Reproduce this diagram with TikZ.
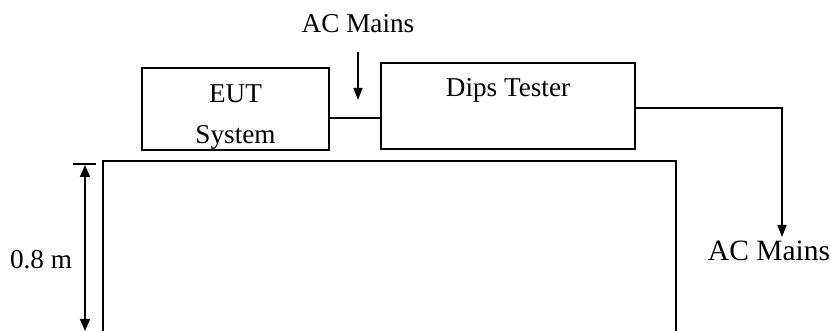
\documentclass[tikz,border=0pt]{standalone}
\usepackage{fontspec}
\setmainfont{Liberation Serif}
\usetikzlibrary{arrows.meta,positioning}

\begin{document}
\begin{tikzpicture}[x=0.5pt,y=-0.5pt,every node/.style={font=\fontsize{13.6}{20.5}\selectfont},
    box/.style={draw,line width=0.9pt,inner sep=0pt},
    tag/.style={inner sep=0pt,align=center},
    feed/.style={line width=0.8pt,-{Triangle[length=6pt,width=4.5pt]}}]
  \useasboundingbox (0,0) rectangle (831,331);
  % equipment on the table
  \node[box,minimum width=93.5pt,minimum height=41pt] (eut) at (235.5,109) {};
  \node[tag,anchor=north] (eutname) at ([yshift=-8.5pt]eut.north) {EUT\\System};
  \node[box,minimum width=127pt,minimum height=43pt] (tester) at (508,106) {};
  \node[tag,anchor=north] (testername) at ([yshift=-8pt]tester.north) {Dips Tester};
  \draw[line width=0.8pt] ([yshift=-4.5pt]eut.east) -- ([yshift=-4.5pt]eut.east -| tester.west);
  % supply in and out
  \node (acin) at (358,24) {AC Mains};
  \coordinate (inend) at (358,100);
  \draw[feed] ([yshift=-6pt]acin.south) -- (inend);
  \coordinate (outend) at (782,237);
  \draw[feed] ([yshift=-1pt]tester.east) -| (outend);
  \node[tag,anchor=north,font=\fontsize{14.75}{18}\selectfont] (acout) at (769,241) {AC Mains};
  % table and its height
  \draw[line width=0.8pt] (103,331) |- (676,161) -- (676,331);
  \coordinate (dimtop) at (85,165);
  \coordinate (dimbot) at (85,331);
  \draw[line width=0.8pt] (73,164) -- (96,164);
  \draw[line width=0.8pt,{Triangle[length=6pt,width=5pt]}-{Triangle[length=6pt,width=5pt]}] (dimtop) -- (dimbot);
  \node (height) at (41,260) {0.8 m};
\end{tikzpicture}
\end{document}
